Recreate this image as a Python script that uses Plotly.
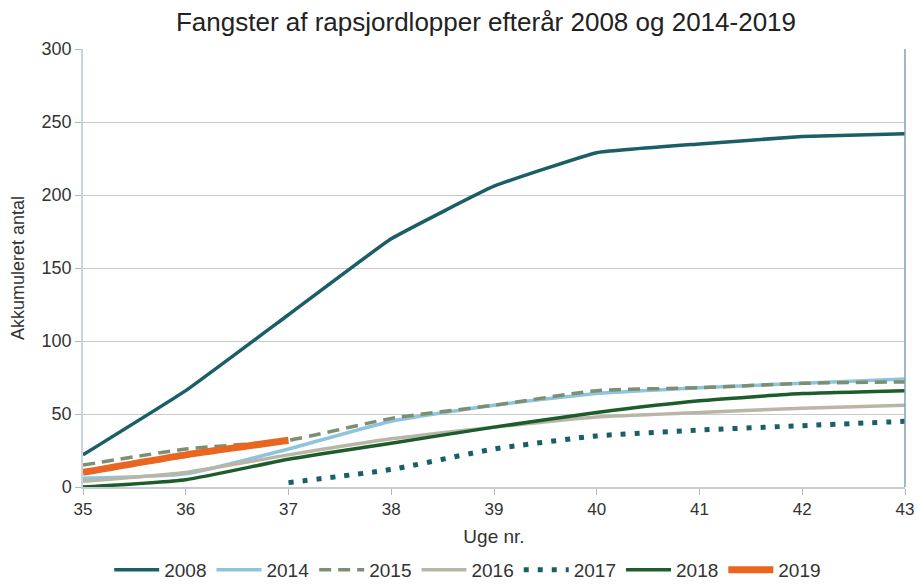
import plotly.graph_objects as go

weeks = [35, 36, 37, 38, 39, 40, 41, 42, 43]
y2008 = [22, 66, 118, 170, 206, 229, 235, 240, 242]
y2014 = [6, 9, 26, 45, 56, 64, 68, 71, 74]
y2015 = [15, 26, 32, 47, 56, 66, 68, 71, 72]
y2016 = [4, 10, 22, 33, 41, 48, 51, 54, 56]
weeks2017 = [37, 38, 39, 40, 41, 42, 43]
y2017 = [3, 12, 26, 35, 39, 42, 45]
y2018 = [0, 5, 19, 30, 41, 51, 59, 64, 66]
weeks2019 = [35, 36, 37]
y2019 = [10, 22, 32]

series = [
    ("2008", weeks, y2008, "#1b5e68", 3.5, "solid", 0.3),
    ("2014", weeks, y2014, "#8fc4dd", 3.5, "solid", 0.5),
    ("2015", weeks, y2015, "#7d8f72", 3.5, "12px,7px", 0.5),
    ("2016", weeks, y2016, "#b9b5a7", 3.5, "solid", 0.5),
    ("2017", weeks2017, y2017, "#1b5e68", 5, "5px,9px", 0.5),
    ("2018", weeks, y2018, "#1d5d2c", 3.5, "solid", 0.5),
    ("2019", weeks2019, y2019, "#e8661f", 7, "solid", 0.5),
]

fig = go.Figure()
for name, xs, ys, color, width, dash, sm in series:
    fig.add_trace(go.Scatter(
        x=xs, y=ys, name=name, mode="lines",
        line=dict(color=color, width=width, dash=dash, shape="spline", smoothing=sm),
    ))

W, H = 918, 585
fig.update_layout(
    width=W, height=H,
    margin=dict(l=83, r=13, t=49, b=98, autoexpand=False),
    paper_bgcolor="white", plot_bgcolor="white",
    font=dict(family="Liberation Sans, Arial, sans-serif", size=16, color="#333333"),
    title=dict(text="Fangster af rapsjordlopper efterår 2008 og 2014-2019",
               x=486 / W, xanchor="center", y=1 - 22 / H, yanchor="middle",
               font=dict(size=26, color="#222222")),
    xaxis=dict(range=[35, 43], tickvals=weeks, ticks="outside", ticklen=6,
               tickcolor="#b0b8bc", showgrid=False, showline=True,
               linecolor="#c8ccd0", linewidth=1.5, zeroline=False,
               automargin=True, tickfont=dict(size=17),
               title=dict(text="Uge nr.", standoff=12, font=dict(size=19))),
    yaxis=dict(range=[0, 300], dtick=50, ticks="outside", ticklen=6,
               tickcolor="#b0b8bc", showgrid=True, gridcolor="#c9c9c9",
               gridwidth=1, showline=True, linecolor="#c8d4da", linewidth=1.5,
               zeroline=False, automargin=True, tickfont=dict(size=18),
               title=dict(text="Akkumuleret antal", standoff=12, font=dict(size=18))),
    legend=dict(orientation="h", x=0.468, xanchor="center",
                yref="container", y=15 / H, yanchor="middle",
                font=dict(size=19, color="#333333"), itemwidth=45,
                traceorder="normal"),
    showlegend=True,
)

# right border line of the plot area
fig.add_shape(type="line", xref="paper", yref="paper", x0=1, x1=1, y0=0, y1=1,
              line=dict(color="#7fa3ad", width=1.5))

fig.write_html("out.html", config={"displayModeBar": False},
               post_script="document.body.style.margin='0';document.body.style.overflow='hidden';")
